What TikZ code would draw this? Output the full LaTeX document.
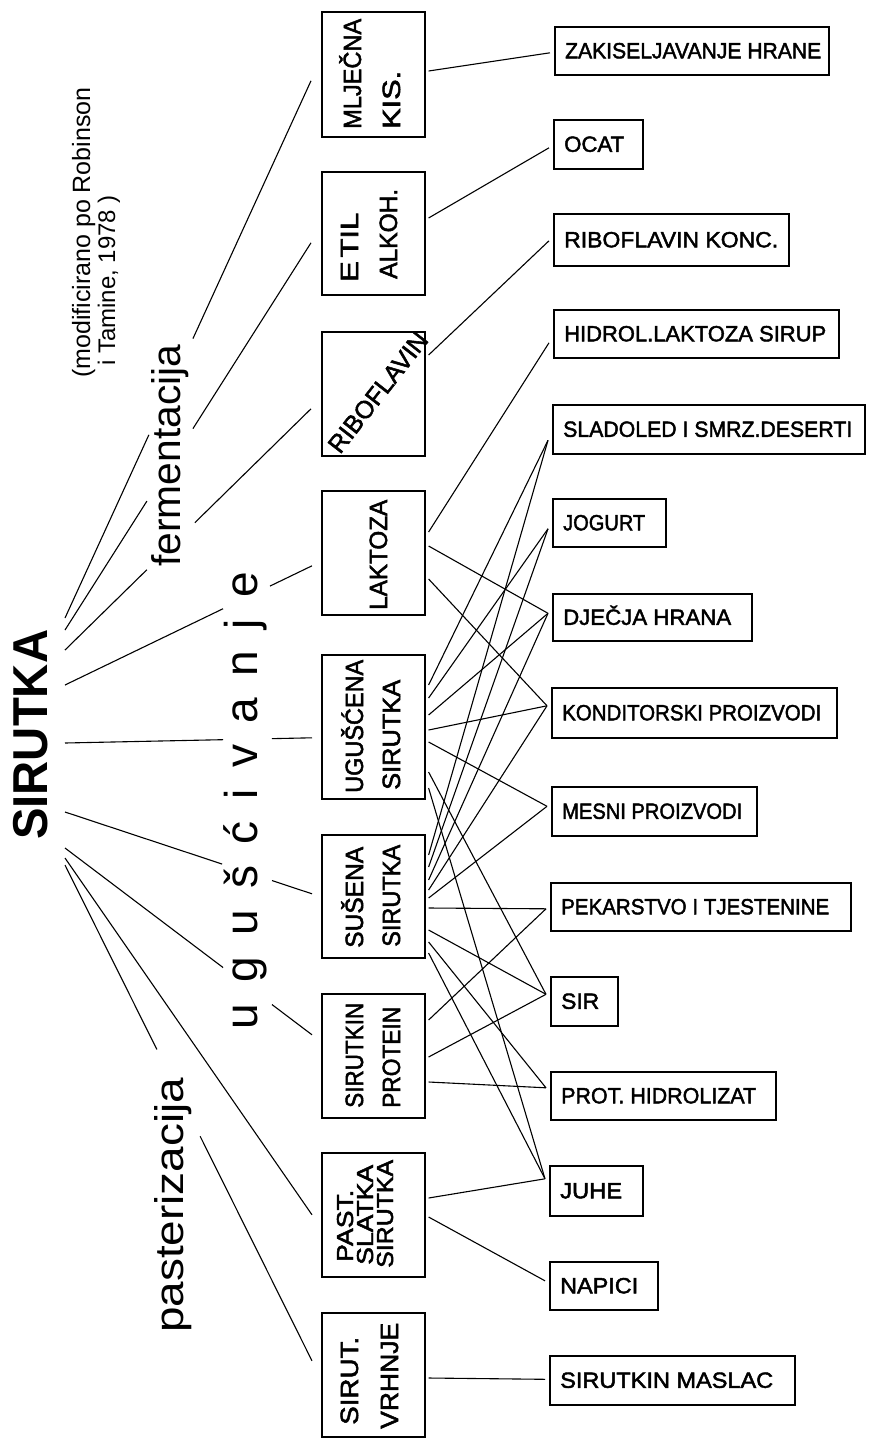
\documentclass[tikz,border=0pt]{standalone}
\usepackage{fontspec}
\setmainfont{Liberation Sans}
\newfontfamily\boxfont{Liberation Sans}[FakeBold=2.0]
\newfontfamily\bigfont{Liberation Sans Bold}
\usepackage{graphicx}
\usetikzlibrary{calc}
\newcommand\fitw[2]{\resizebox{#1pt}{\height}{#2}}
\newcommand\lnk[3]{\draw[link] ([shift={(3,#2)}]#1.north east) -- (#3-in);}
\newcommand\gp{\kern21.5pt}
\begin{document}
\begin{tikzpicture}[x=1pt,y=-1pt,
  rbox/.style={draw, line width=1.6pt, inner sep=0pt, anchor=north west},
  mbox/.style={draw, line width=1.6pt, inner sep=0pt, anchor=north west, minimum width=103pt},
  link/.style={line width=1.1pt},
  rtxt/.style={font=\boxfont\fontsize{22}{24}\selectfont, inner sep=0pt, anchor=base west},
  mtxt/.style={font=\boxfont\fontsize{25}{28}\selectfont, inner sep=0pt, anchor=base west, rotate=90},
  stxt/.style={font=\boxfont\fontsize{23}{26}\selectfont, inner sep=0pt, anchor=base west, rotate=90},
  lab/.style={inner sep=0pt, anchor=base west, rotate=90}]
\useasboundingbox[fill=white] (0,0) rectangle (868,1441);

% right column boxes
\node[rbox, minimum width=274pt, minimum height=48pt] (zak) at (554,26) {};
\node[rbox, minimum width=89pt,  minimum height=49pt] (oca) at (553,119) {};
\node[rbox, minimum width=235pt, minimum height=52pt] (rib) at (553,213) {};
\node[rbox, minimum width=285pt, minimum height=48pt] (hid) at (553,309) {};
\node[rbox, minimum width=312pt, minimum height=49pt] (sla) at (552,404) {};
\node[rbox, minimum width=113pt, minimum height=48pt] (jog) at (552,498) {};
\node[rbox, minimum width=199pt, minimum height=47pt] (dje) at (552,593) {};
\node[rbox, minimum width=285pt, minimum height=50pt] (kon) at (551,687) {};
\node[rbox, minimum width=205pt, minimum height=49pt] (mes) at (551,786) {};
\node[rbox, minimum width=300pt, minimum height=48pt] (pek) at (550,882) {};
\node[rbox, minimum width=67pt,  minimum height=49pt] (sir) at (550,976) {};
\node[rbox, minimum width=225pt, minimum height=48pt] (pro) at (550,1071) {};
\node[rbox, minimum width=93pt,  minimum height=50pt] (juh) at (549,1165) {};
\node[rbox, minimum width=108pt, minimum height=48pt] (nap) at (549,1261) {};
\node[rbox, minimum width=245pt, minimum height=49pt] (mas) at (549,1355) {};

\node[rtxt] (zak-t) at ([shift={(11,7.5)}]zak.west) {\fitw{256}{ZAKISELJAVANJE HRANE}};
\node[rtxt] (oca-t) at ([shift={(11,7.5)}]oca.west) {\fitw{60}{OCAT}};
\node[rtxt] (rib-t) at ([shift={(11,7.5)}]rib.west) {\fitw{214}{RIBOFLAVIN KONC.}};
\node[rtxt] (hid-t) at ([shift={(11,7.5)}]hid.west) {\fitw{262}{HIDROL.LAKTOZA SIRUP}};
\node[rtxt] (sla-t) at ([shift={(11,7.5)}]sla.west) {\fitw{289}{SLADOLED I SMRZ.DESERTI}};
\node[rtxt] (jog-t) at ([shift={(11,7.5)}]jog.west) {\fitw{82}{JOGURT}};
\node[rtxt] (dje-t) at ([shift={(11,7.5)}]dje.west) {\fitw{168}{DJEČJA HRANA}};
\node[rtxt] (kon-t) at ([shift={(11,7.5)}]kon.west) {\fitw{259}{KONDITORSKI PROIZVODI}};
\node[rtxt] (mes-t) at ([shift={(11,7.5)}]mes.west) {\fitw{180}{MESNI PROIZVODI}};
\node[rtxt] (pek-t) at ([shift={(11,7.5)}]pek.west) {\fitw{268}{PEKARSTVO I TJESTENINE}};
\node[rtxt] (sir-t) at ([shift={(11,7.5)}]sir.west) {\fitw{38}{SIR}};
\node[rtxt] (pro-t) at ([shift={(11,7.5)}]pro.west) {\fitw{195}{PROT. HIDROLIZAT}};
\node[rtxt] (juh-t) at ([shift={(11,7.5)}]juh.west) {\fitw{62}{JUHE}};
\node[rtxt] (nap-t) at ([shift={(11,7.5)}]nap.west) {\fitw{78}{NAPICI}};
\node[rtxt] (mas-t) at ([shift={(11,7.5)}]mas.west) {\fitw{213}{SIRUTKIN MASLAC}};

% middle column boxes
\node[mbox, minimum height=125pt] (mlj)  at (321,11) {};
\node[mbox, minimum height=123pt] (eti)  at (321,171) {};
\node[mbox, minimum height=124pt] (ribo) at (321,331) {};
\node[mbox, minimum height=124pt] (lak)  at (321,490) {};
\node[mbox, minimum height=144pt] (ugu)  at (321,654) {};
\node[mbox, minimum height=123pt] (sus)  at (321,834) {};
\node[mbox, minimum height=124pt] (prot) at (321,993) {};
\node[mbox, minimum height=124pt] (past) at (321,1152) {};
\node[mbox, minimum height=124pt] (vrh)  at (321,1312) {};

\node[mtxt] (mlj-a) at (361,129) {\fitw{110}{MLJEČNA}};
\node[mtxt] (mlj-b) at (400,129) {\fitw{58}{KIS.}};
\node[mtxt] (eti-a) at (358,282) {\fitw{69}{E\kern3pt TIL}};
\node[mtxt] (eti-b) at (397,279) {\fitw{90}{ALKOH.}};
\node[inner sep=0pt, anchor=base west, rotate=52, font=\boxfont\fontsize{25}{28}\selectfont] (ribo-a) at (340,455) {\fitw{145}{RIBOFLAVIN}};
\node[mtxt] (lak-a) at (387,610) {\fitw{110}{LAKTOZA}};
\node[mtxt] (ugu-a) at (363,793) {\fitw{133}{UGUŠĆENA}};
\node[mtxt] (ugu-b) at (400,790) {\fitw{110}{SIRUTKA}};
\node[mtxt] (sus-a) at (363,948) {\fitw{101}{SUŠENA}};
\node[mtxt] (sus-b) at (400,947) {\fitw{102}{SIRUTKA}};
\node[mtxt] (prot-a) at (363,1108) {\fitw{105}{SIRUTKIN}};
\node[mtxt] (prot-b) at (400,1108) {\fitw{101}{PROTEIN}};
\node[stxt] (past-a) at (353,1262) {\fitw{72}{PAST.}};
\node[stxt] (past-b) at (373,1265) {\fitw{100}{SLATKA}};
\node[stxt] (past-c) at (393,1268) {\fitw{108}{SIRUTKA}};
\node[mtxt] (vrh-a) at (358,1425) {\fitw{88}{SIRUT.}};
\node[mtxt] (vrh-b) at (398,1429) {\fitw{106}{VRHNJE}};

% entry points on the right column
\coordinate (zak-in) at ([shift={(-4,2)}]zak.west);
\coordinate (oca-in) at ([shift={(-4,3.5)}]oca.west);
\coordinate (rib-in) at ([shift={(-4,1)}]rib.west);
\coordinate (hid-in) at ([shift={(-4,9)}]hid.west);
\coordinate (sla-in) at ([shift={(-4,11)}]sla.west);
\coordinate (jog-in) at ([shift={(-4,6)}]jog.west);
\coordinate (dje-in) at ([shift={(-4,-4)}]dje.west);
\coordinate (kon-in) at ([shift={(-4,-7)}]kon.west);
\coordinate (mes-in) at ([shift={(-4,-5)}]mes.west);
\coordinate (pek-in) at ([shift={(-4,2)}]pek.west);
\coordinate (sir-in) at ([shift={(-4,-7)}]sir.west);
\coordinate (pro-in) at ([shift={(-4,-8)}]pro.west);
\coordinate (juh-in) at ([shift={(-4,-12)}]juh.west);
\coordinate (nap-in) at ([shift={(-4,-5)}]nap.west);
\coordinate (mas-in) at ([shift={(-4,-1)}]mas.west);

% middle -> right connectors
\lnk{mlj}{60}{zak}
\lnk{eti}{47}{oca}
\lnk{ribo}{24}{rib}
\lnk{lak}{42}{hid}
\lnk{lak}{56}{dje}
\lnk{lak}{89}{kon}
\lnk{ugu}{31}{sla}
\lnk{ugu}{44}{jog}
\lnk{ugu}{61}{dje}
\lnk{ugu}{76}{kon}
\lnk{ugu}{88}{mes}
\lnk{ugu}{118}{sir}
\lnk{ugu}{134}{juh}
\lnk{sus}{21}{sla}
\lnk{sus}{33}{jog}
\lnk{sus}{46}{dje}
\lnk{sus}{56}{kon}
\lnk{sus}{64}{mes}
\lnk{sus}{74}{pek}
\lnk{sus}{96}{sir}
\lnk{sus}{108}{pro}
\lnk{sus}{119}{juh}
\lnk{prot}{27}{pek}
\lnk{prot}{64}{sir}
\lnk{prot}{89}{pro}
\lnk{past}{46}{juh}
\lnk{past}{65}{nap}
\lnk{vrh}{66}{mas}

% source and labels
\node[lab, font=\bigfont\fontsize{49}{52}\selectfont] (sirutka) at (47,840) {\fitw{210}{SIRUTKA}};
\node[lab, font=\fontsize{25}{28}\selectfont] (note-a) at (90,378) {(modificirano po Robinson};
\node[lab, font=\fontsize{24}{27}\selectfont] (note-b) at (115,366) {i Tamine, 1978 )};
\node[lab, font=\fontsize{40}{44}\selectfont] (ferm) at (180,567) {\fitw{222}{fermentacija}};
\node[lab, font=\fontsize{46}{50}\selectfont] (ugus) at (257,1030) {u\gp g\gp u\gp š\gp ć\gp i\gp v\gp a\gp n\gp j\gp e};
\node[lab, font=\fontsize{40}{44}\selectfont] (paster) at (183,1333) {\fitw{255}{pasterizacija}};

% fan from SIRUTKA
\coordinate (f1) at (65,618);
\coordinate (f2) at (65,630);
\coordinate (f3) at (65,650);
\coordinate (f4) at (65,685);
\coordinate (f5) at (65,743);
\coordinate (f6) at (65,812);
\coordinate (f7) at (65,848);
\coordinate (f8) at (65,858);
\coordinate (f9) at (65,865);
\coordinate (mlj-l)  at ([shift={(-10,6.5)}]mlj.west);
\coordinate (eti-l)  at ([shift={(-10,9.5)}]eti.west);
\coordinate (ribo-l) at ([shift={(-10,15)}]ribo.west);
\coordinate (lak-l)  at ([shift={(-9,13)}]lak.west);
\coordinate (ugu-l)  at ([shift={(-9,11)}]ugu.west);
\coordinate (sus-l)  at ([shift={(-9,-2.5)}]sus.west);
\coordinate (prot-l) at ([shift={(-9,-21)}]prot.west);
\coordinate (past-l) at ([shift={(-9,0)}]past.west);
\coordinate (vrh-l)  at ([shift={(-9,-14)}]vrh.west);

\draw[link] (f1) -- ($(f1)!.341!(mlj-l)$)  ($(f1)!.520!(mlj-l)$) -- (mlj-l);
\draw[link] (f2) -- ($(f2)!.333!(eti-l)$)  ($(f2)!.520!(eti-l)$) -- (eti-l);
\draw[link] (f3) -- ($(f3)!.333!(ribo-l)$) ($(f3)!.528!(ribo-l)$) -- (ribo-l);
\draw[link] (f4) -- ($(f4)!.640!(lak-l)$)  ($(f4)!.830!(lak-l)$) -- (lak-l);
\draw[link] (f5) -- ($(f5)!.640!(ugu-l)$)  ($(f5)!.838!(ugu-l)$) -- (ugu-l);
\draw[link] (f6) -- ($(f6)!.636!(sus-l)$)  ($(f6)!.838!(sus-l)$) -- (sus-l);
\draw[link] (f7) -- ($(f7)!.640!(prot-l)$) ($(f7)!.838!(prot-l)$) -- (prot-l);
\draw[link] (f8) -- (past-l);
\draw[link] (f9) -- ($(f9)!.372!(vrh-l)$)  ($(f9)!.547!(vrh-l)$) -- (vrh-l);
\end{tikzpicture}
\end{document}
